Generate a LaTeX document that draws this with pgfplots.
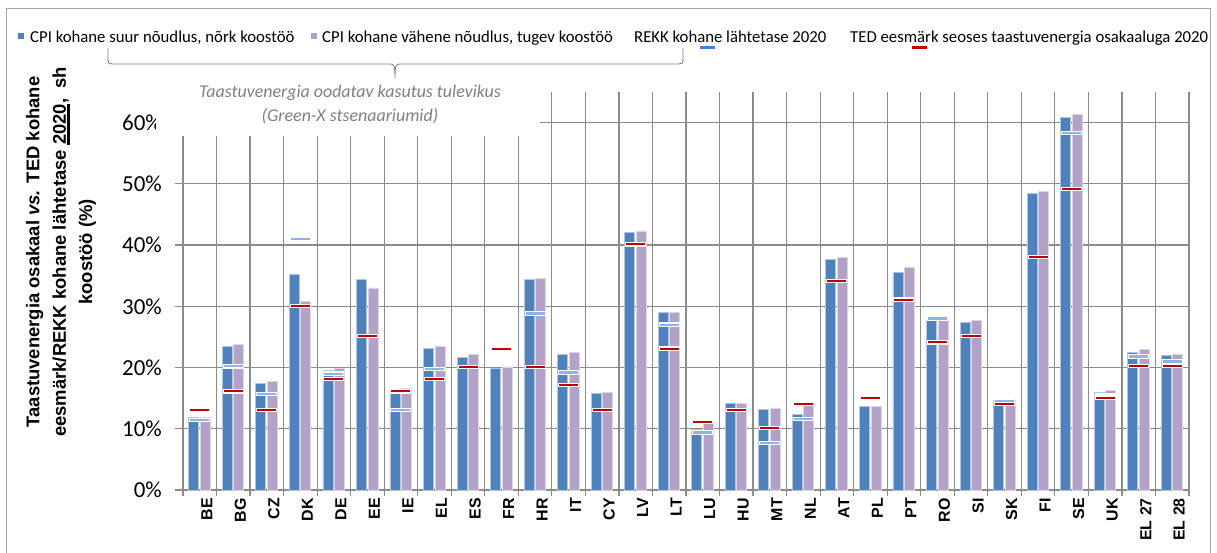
\documentclass[border=0pt]{standalone}
\usepackage{fontspec}
\setmainfont{Carlito}
\newfontfamily\arialfont{Liberation Sans}
\usepackage{pgfplots}
\usepackage{pgfplotstable}
\pgfplotsset{compat=1.18}
\definecolor{barblue}{HTML}{4F81BD}
\definecolor{barpurple}{HTML}{B3A2C7}
\definecolor{gridgray}{HTML}{8C8C8C}
\definecolor{tedred}{HTML}{C00000}
\definecolor{rekkblue}{HTML}{8EB4E3}
\definecolor{legblue}{HTML}{3F7FEF}
\definecolor{annogray}{HTML}{808080}
\definecolor{framegray}{HTML}{A6A6A6}

\pgfplotstableread{
x blue purple
0 11.9 11.9
1 23.5 23.8
2 17.4 17.7
3 35.2 30.8
4 19.5 19.8
5 34.4 33.0
6 15.8 16.6
7 23.1 23.5
8 21.7 22.1
9 19.8 20.1
10 34.4 34.6
11 22.1 22.5
12 15.8 16.0
13 42.1 42.3
14 29.0 29.0
15 9.9 11.0
16 14.2 14.2
17 13.2 13.4
18 12.4 14.2
19 37.7 38.0
20 13.6 13.6
21 35.6 36.3
22 27.7 27.9
23 27.4 27.7
24 14.6 14.8
25 48.4 48.7
26 60.8 61.4
27 16.0 16.2
28 22.5 23.0
29 21.9 22.1
}\barsdata

\pgfplotstableread{
x rekk
0 11.4
1 20.2
2 15.7
3 41.0
4 19.0
6 13.1
7 19.8
10 28.8
11 19.2
14 27.0
15 9.4
17 7.7
18 11.6
22 28.0
24 14.5
26 58.3
27 15.4
28 21.8
29 21.0
}\rekkdata

\pgfplotstableread{
x ted
0 13.1
1 16.1
2 13.1
3 30.1
4 18.1
5 25.1
6 16.1
7 18.1
8 20.1
9 23.1
10 20.1
11 17.1
12 13.1
13 40.1
14 23.1
15 11.1
16 13.1
17 10.1
18 14.1
19 34.1
20 15.1
21 31.1
22 24.1
23 25.1
24 14.1
25 38.1
26 49.1
27 15.1
28 20.2
29 20.2
}\teddata

\begin{document}
\begin{tikzpicture}[x=1bp,y=1bp]
\path[use as bounding box] (0,0) rectangle (1217,553);
\begin{axis}[
  at={(183bp,63bp)}, anchor=south west,
  width=1006bp, height=398bp, scale only axis,
  xmin=-0.5, xmax=29.5, ymin=0, ymax=65,
  axis line style={draw=none},
  ytick={0,10,...,60},
  yticklabels={0\%,10\%,20\%,30\%,40\%,50\%,60\%},
  yticklabel style={font=\fontsize{23}{23}\selectfont, inner sep=0pt, anchor=east, xshift=-13bp},
  xtick={0,...,29},
  xticklabels={BE,BG,CZ,DK,DE,EE,IE,EL,ES,FR,HR,IT,CY,LV,LT,LU,HU,MT,NL,AT,PL,PT,RO,SI,SK,FI,SE,UK,EL 27,EL 28},
  xticklabel style={rotate=90, anchor=east, inner sep=0pt, font=\arialfont\bfseries\fontsize{16}{16}\selectfont, yshift=-7bp},
  minor xtick={-0.5,0.5,...,29.5},
  xminorgrids=true, ymajorgrids=true, xmajorgrids=false,
  grid style={gridgray, line width=1.2bp},
  minor grid style={gridgray, line width=1.2bp},
  tick align=outside,
  xtick pos=left, ytick pos=left,
  major tick length=8bp, minor tick length=6bp,
  tick style={gridgray, line width=1.2bp},
  every major x tick/.style={draw=none},
  clip=false,
]
\addplot[ybar, bar width=10bp, bar shift=-6bp, fill=barblue, draw=barblue!45!white, line width=0.8bp] table[x=x,y=blue]{\barsdata};
\addplot[ybar, bar width=10bp, bar shift=5.5bp, fill=barpurple, draw=barpurple!45!white, line width=0.8bp] table[x=x,y=purple]{\barsdata};
\addplot[only marks, mark=-, mark size=10.5bp, mark options={white, line width=4.4bp}] table[x=x,y=rekk]{\rekkdata};
\addplot[only marks, mark=-, mark size=9.5bp, mark options={rekkblue, line width=2.3bp}] table[x=x,y=rekk]{\rekkdata};
\addplot[only marks, mark=-, mark size=10.5bp, mark options={white, line width=4.2bp}] table[x=x,y=ted]{\teddata};
\addplot[only marks, mark=-, mark size=9.5bp, mark options={tedred, line width=2bp}] table[x=x,y=ted]{\teddata};
\end{axis}
% white box of the annotation
\fill[white] (156,417) rectangle (540,470);
\node[annogray, font=\itshape\fontsize{18}{25}\selectfont, align=center] at (350,448.5) {Taastuvenergia oodatav kasutus tulevikus\\(Green-X stsenaariumid)};
% brace
\draw[annogray, line width=0.9bp] (108,505) -- (108,493) .. controls (108,490) and (109,489) .. (112,489) -- (390,489) .. controls (394,489) and (395,488) .. (395,475) .. controls (395,488) and (396,489) .. (400,489) -- (679,489) .. controls (682,489) and (683,490) .. (683,493) -- (683,505);
% frame
\draw[framegray, line width=1bp] (6.5,-5) -- (6.5,544) -- (1210,544) -- (1210,-5);
% legend
\fill[barblue] (18,514) rectangle (24,520);
\node[anchor=base west, inner sep=0pt, font=\fontsize{16.8}{16.8}\selectfont] at (30,510) {CPI kohane suur nõudlus, nõrk koostöö};
\fill[barpurple] (311,514) rectangle (317,520);
\node[anchor=base west, inner sep=0pt, font=\fontsize{16.8}{16.8}\selectfont] at (322,510) {CPI kohane vähene nõudlus, tugev koostöö};
\node[anchor=base west, inner sep=0pt, font=\fontsize{16.8}{16.8}\selectfont] at (634,510) {REKK kohane lähtetase 2020};
\draw[legblue, line width=3bp] (700,505) -- (715,505);
\node[anchor=base west, inner sep=0pt, font=\fontsize{16.8}{16.8}\selectfont] at (850,510) {TED eesmärk seoses taastuvenergia osakaaluga 2020};
\draw[tedred, line width=3bp] (912,505) -- (927,505);
% y-axis title
\node[rotate=90, align=center, font=\arialfont\bfseries\fontsize{18.5}{26.5}\selectfont] at (61,301) {Taastuvenergia osakaal \textit{vs.} TED kohane\\eesmärk/REKK kohane lähtetase \mbox{\vtop{\hbox{2020}\kern1.5bp\hrule height 2.5bp}}, \ sh\\koostöö (\%)};
\end{tikzpicture}
\end{document}
